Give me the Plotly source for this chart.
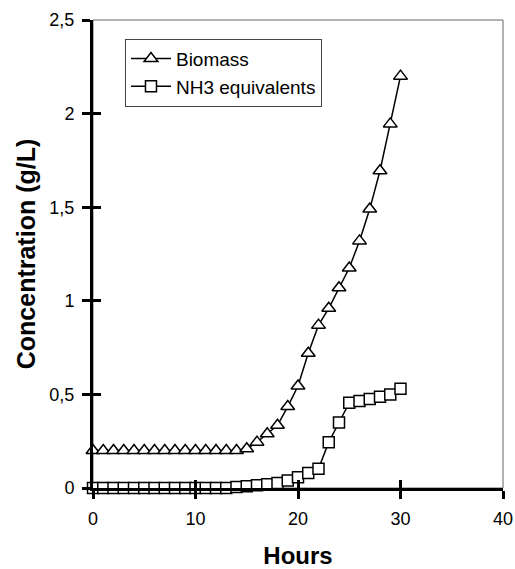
import plotly.graph_objects as go

hours = list(range(0, 31))
biomass = [0.2] * 15 + [0.21, 0.245, 0.29, 0.335, 0.435, 0.545, 0.72, 0.87, 0.96,
                        1.07, 1.175, 1.32, 1.49, 1.695, 1.945, 2.2]
nh3 = [0.0] * 14 + [0.005, 0.01, 0.015, 0.02, 0.027, 0.04, 0.058, 0.08, 0.103, 0.245,
                    0.35, 0.455, 0.465, 0.475, 0.487, 0.5, 0.53]

x_ticks = [0, 10, 20, 30, 40]
y_ticks = [0, 0.5, 1, 1.5, 2, 2.5]
y_labels = ["0", "0,5", "1", "1,5", "2", "2,5"]

FONT = "Liberation Sans, Arial, sans-serif"

fig = go.Figure()
fig.add_trace(go.Scatter(
    x=hours, y=biomass, name="Biomass", mode="lines+markers",
    line=dict(color="black", width=1.5),
    marker=dict(symbol="triangle-up", size=12, color="white",
                line=dict(color="black", width=1.5)),
    cliponaxis=False))
fig.add_trace(go.Scatter(
    x=hours, y=nh3, name="NH3 equivalents", mode="lines+markers",
    line=dict(color="black", width=1.5),
    marker=dict(symbol="square", size=11, color="white",
                line=dict(color="black", width=1.5)),
    cliponaxis=False))
fig.add_trace(go.Scatter(x=[None], y=[None], xaxis="x2", yaxis="y2",
                         showlegend=False, hoverinfo="skip"))

fig.update_layout(
    width=515, height=569,
    margin=dict(l=93, r=12, t=20, b=81),
    paper_bgcolor="white", plot_bgcolor="white",
    font=dict(family=FONT, color="black", size=18),
    showlegend=True,
    legend=dict(x=0.078, y=0.96, xanchor="left", yanchor="top",
                bgcolor="white", bordercolor="#444", borderwidth=1,
                font=dict(size=19, family=FONT), tracegroupgap=0,
                itemwidth=40),
    xaxis=dict(range=[0, 40], tickvals=x_ticks, ticks="outside", ticklen=8,
               tickwidth=3, tickcolor="black", showline=True, linewidth=3,
               linecolor="black", showgrid=False, zeroline=False,
               tickfont=dict(size=18), automargin=False, ticklabelstandoff=4,
               title=dict(text="<b>Hours</b>", font=dict(size=24), standoff=24)),
    yaxis=dict(range=[0, 2.5], tickvals=y_ticks, ticktext=y_labels,
               ticks="outside", ticklen=8, tickwidth=3, tickcolor="black",
               showline=True, linewidth=3, linecolor="black", showgrid=False,
               zeroline=False, tickfont=dict(size=18), automargin=False,
               ticklabelstandoff=4,
               title=dict(text="<b>Concentration (g/L)</b>", font=dict(size=25),
                          standoff=7)),
    xaxis2=dict(range=[0, 40], tickvals=x_ticks, ticks="inside", ticklen=8,
                tickwidth=3, tickcolor="black", showticklabels=False,
                showline=False, showgrid=False, zeroline=False,
                overlaying="x", anchor="y2", automargin=False),
    yaxis2=dict(range=[0, 2.5], tickvals=y_ticks, ticks="inside", ticklen=8,
                tickwidth=3, tickcolor="black", showticklabels=False,
                showline=False, showgrid=False, zeroline=False,
                overlaying="y", anchor="x2", automargin=False),
    shapes=[dict(type="rect", xref="paper", yref="paper", x0=0, x1=1, y0=0, y1=1,
                 line=dict(color="#666", width=1), layer="below")],
)

fig.write_html("out.html")
